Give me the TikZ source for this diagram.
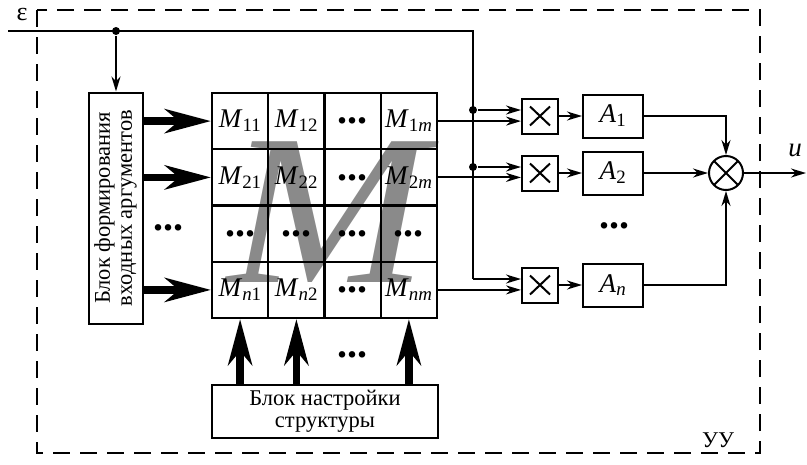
\documentclass[tikz,border=0pt]{standalone}
\usepackage{fontspec}
\setmainfont{Liberation Serif}
\usetikzlibrary{arrows.meta}
\definecolor{mgray}{RGB}{138,138,138}
\newcommand\Mc[1]{\textit{M}\textsubscript{#1}}
\newcommand\Ac[1]{\textit{A}\textsubscript{#1}}

\begin{document}
\begin{tikzpicture}[x=1pt,y=-1pt,line width=2pt,
    >={Stealth[length=15pt,width=9pt]},
    box/.style={draw,inner sep=0pt},
    cell/.style={box,minimum size=56.25pt,font=\fontsize{27}{27}\selectfont},
    txt/.style={font=\fontsize{22.5}{22}\selectfont},
    dotsf/.style={font=\fontsize{40}{40}\selectfont\bfseries},
    fat/.style={line width=7.5pt,-{Stealth[length=46pt,width=24pt,inset=14pt]}},
    mult/.style={box,minimum width=36pt,minimum height=35pt,
      path picture={\draw ([shift={(8pt,8pt)}]path picture bounding box.south west) -- ([shift={(-8pt,-8pt)}]path picture bounding box.north east)
        ([shift={(8pt,-8pt)}]path picture bounding box.north west) -- ([shift={(-8pt,8pt)}]path picture bounding box.south east);}},
    amp/.style={box,minimum width=60pt,minimum height=43pt,font=\fontsize{27}{27}\selectfont},
    sum/.style={circle,draw,minimum size=34pt,inner sep=0pt,
      path picture={\draw (path picture bounding box.south west) -- (path picture bounding box.north east)
        (path picture bounding box.north west) -- (path picture bounding box.south east);}},
    dot/.style={circle,fill,inner sep=0pt,minimum size=8pt}]
  \useasboundingbox (0,0) rectangle (807,464);
  % frame of the control unit
  \draw[line width=2.8pt,dash pattern=on 17pt off 10pt] (37,10) rectangle (760,453);
  \node[font=\fontsize{26}{26}\selectfont] (eps) at (22,14) {ε};
  \node[txt] (uu) at (718,440) {УУ};
  % big letter behind the matrix
  \node[text=mgray,font=\fontsize{215}{215}\selectfont\itshape,inner sep=0pt,xscale=1.12] (bigM) at (328,212) {M};
  % matrix
  \foreach \r/\y/\s in {1/121.1/1,2/177.4/2,4/289.9/\textit{n}} {
    \node[cell] (c\r1) at (240.1,\y) {\Mc{\s 1}};
    \node[cell] (c\r2) at (296.4,\y) {\Mc{\s 2}};
    \node[cell,dotsf] (c\r3) at (352.6,\y) {...};
    \node[cell] (c\r4) at (408.9,\y) {\Mc{\s\textit{m}}};
  }
  \foreach \c/\x in {1/240.1,2/296.4,3/352.6,4/408.9} \node[cell,dotsf] (c3\c) at (\x,233.6) {...};
  % blocks
  \node[box,rotate=90,minimum width=231pt,minimum height=54pt,align=center,txt] (form) at (115.5,208) {Блок формирования\\входных аргументов};
  \node[box,minimum width=226pt,minimum height=53pt,align=center,txt] (tune) at (325,411.5) {Блок настройки\\структуры};
  \foreach \r in {1,2,4} \draw[fat] (form.south |- c\r1.west) -- (c\r1.west);
  \foreach \c in {1,2,4} \draw[fat] (c4\c.south |- tune.north) -- (c4\c.south);
  \node[dotsf] (ldots) at (168,228) {...};
  \node[dotsf] (bdots) at (352,355) {...};
  % input line
  \coordinate (ein) at (8,31);
  \coordinate (ecor) at (473,31);
  \node[dot] (j0) at (116,31) {};
  \node[dot] (j1) at (473,110) {};
  \node[dot] (j2) at (473,167) {};
  \coordinate (jn) at (473,279);
  \draw (ein) -- (ecor) -- (jn);
  \draw[->] (j0) -- (j0 |- form.east);
  % multipliers and amplifiers
  \node[mult] (m1) at (540,116) {};
  \node[mult] (m2) at (540,173) {};
  \node[mult] (mn) at (540,285) {};
  \node[amp] (a1) at (613,116) {\Ac{1}};
  \node[amp] (a2) at (613,173) {\Ac{2}};
  \node[amp] (an) at (613,285) {\Ac{\textit{n}}};
  \node[dotsf] (adots) at (614,226) {...};
  \node[sum] (s) at (726,173) {};
  \draw[->] (j1) -- (j1 -| m1.west);
  \draw[->] (j2) -- (j2 -| m2.west);
  \draw[->] (jn) -- (jn -| mn.west);
  \draw[->] (c14.east) -- (c14.east -| m1.west);
  \draw[->] (c24.east) -- (c24.east -| m2.west);
  \draw[->] (c44.east) -- (c44.east -| mn.west);
  \draw[->] (m1) -- (a1);
  \draw[->] (m2) -- (a2);
  \draw[->] (mn) -- (an);
  \draw[->] (a1.east) -| (s.north);
  \draw[->] (a2) -- (s);
  \draw[->] (an.east) -| (s.south);
  \coordinate (uend) at (806,173);
  \draw[->] (s) -- (uend);
  \node[font=\fontsize{27}{27}\selectfont\itshape] (ulab) at (795,150) {u};
\end{tikzpicture}
\end{document}
